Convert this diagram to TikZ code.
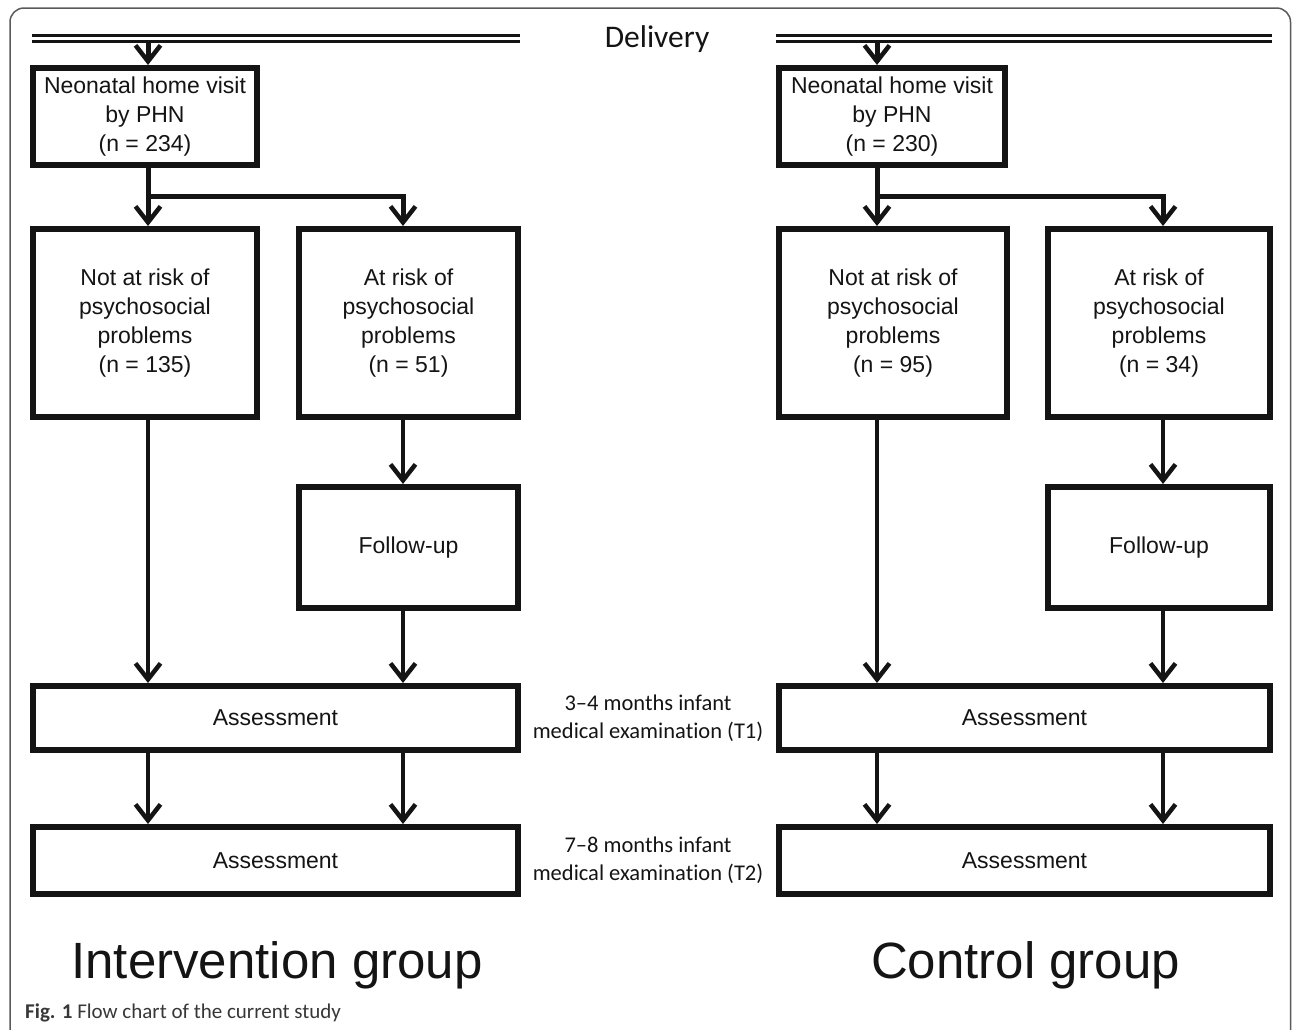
\documentclass[tikz,border=0pt]{standalone}
\usepackage{fontspec}
\setmainfont{Liberation Sans}
\newfontfamily\calib[Ligatures={TeX,NoCommon}]{Carlito}
\usetikzlibrary{arrows.meta}
\definecolor{ink}{HTML}{141414}
\definecolor{framec}{HTML}{5A5A5A}
\begin{document}
\begin{tikzpicture}[x=1pt,y=-1pt,
  box/.style={draw=ink, line width=6pt, inner sep=0pt, align=center, text=ink,
              font=\fontsize{23}{29}\selectfont},
  conn/.style={draw=ink, line width=4pt,
               -{Straight Barb[length=16pt,width=25pt,line width=4.5pt]}},
  connthick/.style={conn, line width=5pt},
  dline/.style={draw=ink, line width=3pt},
  midlabel/.style={align=center, text=ink, font=\calib\fontsize{22.5}{28}\selectfont},
  grouplabel/.style={text=ink, font=\fontsize{51}{60}\selectfont, anchor=base},
]
\useasboundingbox (0,0) rectangle (1292,1029);
% outer frame
\draw[framec, line width=1.5pt, rounded corners=14pt] (10,1040) -- (10,8) -- (1290.5,8) -- (1290.5,1040);

% Delivery lines and label
\draw[dline] (32,35) -- (520,35);
\draw[dline] (32,41) -- (520,41);
\draw[dline] (776,35) -- (1272,35);
\draw[dline] (776,41) -- (1272,41);
\node[text=ink, font=\calib\fontsize{31.5}{36}\selectfont, anchor=base] (deliv) at (657,47) {Delivery};

% column x coordinates
\coordinate (xL1) at (148,0);
\coordinate (xL2) at (403,0);
\coordinate (xR1) at (877,0);
\coordinate (xR2) at (1163,0);
\coordinate (dL) at (148,41);
\coordinate (dR) at (877,41);
\coordinate (brL) at (148,196);
\coordinate (brR) at (877,196);

% ---------- Intervention group ----------
\node[box, minimum width=224pt, minimum height=97pt] (N1) at (145,116.5) {Neonatal home visit\\by PHN\\(n = 234)};
\node[box, minimum width=224pt, minimum height=188pt] (A1) at (145,323) {Not at risk of\\psychosocial\\problems\\(n = 135)};
\node[box, minimum width=219pt, minimum height=188pt] (B1) at (408.5,323) {At risk of\\psychosocial\\problems\\(n = 51)};
\node[box, minimum width=219pt, minimum height=121pt] (F1) at (408.5,547.5) {Follow-up};
\node[box, minimum width=485pt, minimum height=64pt] (T1a) at (275.5,718) {Assessment};
\node[box, minimum width=485pt, minimum height=67pt] (T2a) at (275.5,860.5) {Assessment};

\draw[connthick] (dL) -- (N1.north -| xL1);
\draw[connthick] (N1.south -| xL1) -- (A1.north -| xL1);
\draw[connthick] (brL) -| (B1.north -| xL2);
\draw[conn] (A1.south -| xL1) -- (T1a.north -| xL1);
\draw[conn] (B1.south -| xL2) -- (F1.north -| xL2);
\draw[conn] (F1.south -| xL2) -- (T1a.north -| xL2);
\draw[conn] (T1a.south -| xL1) -- (T2a.north -| xL1);
\draw[conn] (T1a.south -| xL2) -- (T2a.north -| xL2);

% ---------- Control group ----------
\node[box, minimum width=226pt, minimum height=97pt] (N2) at (892,116.5) {Neonatal home visit\\by PHN\\(n = 230)};
\node[box, minimum width=228pt, minimum height=188pt] (A2) at (893,323) {Not at risk of\\psychosocial\\problems\\(n = 95)};
\node[box, minimum width=222pt, minimum height=188pt] (B2) at (1159,323) {At risk of\\psychosocial\\problems\\(n = 34)};
\node[box, minimum width=222pt, minimum height=121pt] (F2) at (1159,547.5) {Follow-up};
\node[box, minimum width=491pt, minimum height=64pt] (T1b) at (1024.5,718) {Assessment};
\node[box, minimum width=491pt, minimum height=67pt] (T2b) at (1024.5,860.5) {Assessment};

\draw[connthick] (dR) -- (N2.north -| xR1);
\draw[connthick] (N2.south -| xR1) -- (A2.north -| xR1);
\draw[connthick] (brR) -| (B2.north -| xR2);
\draw[conn] (A2.south -| xR1) -- (T1b.north -| xR1);
\draw[conn] (B2.south -| xR2) -- (F2.north -| xR2);
\draw[conn] (F2.south -| xR2) -- (T1b.north -| xR2);
\draw[conn] (T1b.south -| xR1) -- (T2b.north -| xR1);
\draw[conn] (T1b.south -| xR2) -- (T2b.north -| xR2);

% middle labels
\node[midlabel] (m1) at (648,718) {3\textendash 4 months infant\\medical examination (T1)};
\node[midlabel] (m2) at (648,860.5) {7\textendash 8 months infant\\medical examination (T2)};

% group labels
\node[grouplabel] (gI) at (277,978) {Intervention group};
\node[grouplabel] (gC) at (1025.5,978) {Control group};

% caption
\node[anchor=base west, inner sep=0pt, text=ink!85, font=\calib\fontsize{21}{25}\selectfont] (cap) at (25,1018) {\textbf{Fig. 1} Flow chart of the current study};
\end{tikzpicture}
\end{document}
